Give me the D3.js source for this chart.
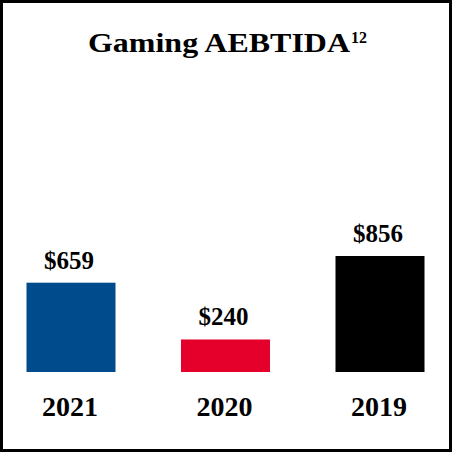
<!DOCTYPE html>
<html>
<head>
<meta charset="utf-8">
<script src="https://cdn.jsdelivr.net/npm/d3@7"></script>
<style>
  body { margin: 0; background: #fff; }
  text { font-family: "Liberation Serif", "Times New Roman", serif; font-weight: bold; fill: #000; }
</style>
</head>
<body>
<svg width="452" height="452"></svg>
<script>
// Chart data
const years = ["2021", "2020", "2019"];
const values = [659, 240, 856];
const valueLabels = ["$659", "$240", "$856"];
const colors = ["#004b8b", "#e4002b", "#000000"];

const svg = d3.select("svg");
const width = 452, height = 452;

// Frame
svg.append("rect")
  .attr("x", 1.5).attr("y", 1.5)
  .attr("width", width - 3).attr("height", height - 3)
  .style("fill", "#fff")
  .style("stroke", "#000")
  .style("stroke-width", 3);

// Title with superscript
const title = svg.append("text")
  .attr("x", 88).attr("y", 52)
  .attr("text-anchor", "start")
  .style("font-size", "28px");
title.append("tspan")
  .attr("textLength", 262)
  .attr("lengthAdjust", "spacingAndGlyphs")
  .text("Gaming AEBTIDA");
title.append("tspan")
  .attr("x", 351)
  .attr("dy", -9)
  .style("font-size", "16px")
  .text("12");

// Scales
const x = d3.scalePoint().domain(years).range([71, 380]);
const baseline = 372;
const y = d3.scaleLinear().domain([0, 856]).range([baseline, 256]);
const barWidth = 89;

const data = years.map((d, i) => ({ year: d, value: values[i], label: valueLabels[i], color: colors[i] }));

// Bars
svg.selectAll("rect.bar")
  .data(data)
  .enter().append("rect")
  .attr("class", "bar")
  .attr("x", d => x(d.year) - barWidth / 2)
  .attr("y", d => y(d.value))
  .attr("width", barWidth)
  .attr("height", d => baseline - y(d.value))
  .style("fill", d => d.color);

// Value labels
svg.selectAll("text.val")
  .data(data)
  .enter().append("text")
  .attr("class", "val")
  .attr("x", d => x(d.year) - 2)
  .attr("y", d => y(d.value) - 14)
  .attr("text-anchor", "middle")
  .style("font-size", "25px")
  .text(d => d.label);

// Year labels
svg.selectAll("text.year")
  .data(data)
  .enter().append("text")
  .attr("class", "year")
  .attr("x", d => x(d.year) - 1)
  .attr("y", 416)
  .attr("text-anchor", "middle")
  .style("font-size", "28px")
  .text(d => d.year);
</script>
</body>
</html>
